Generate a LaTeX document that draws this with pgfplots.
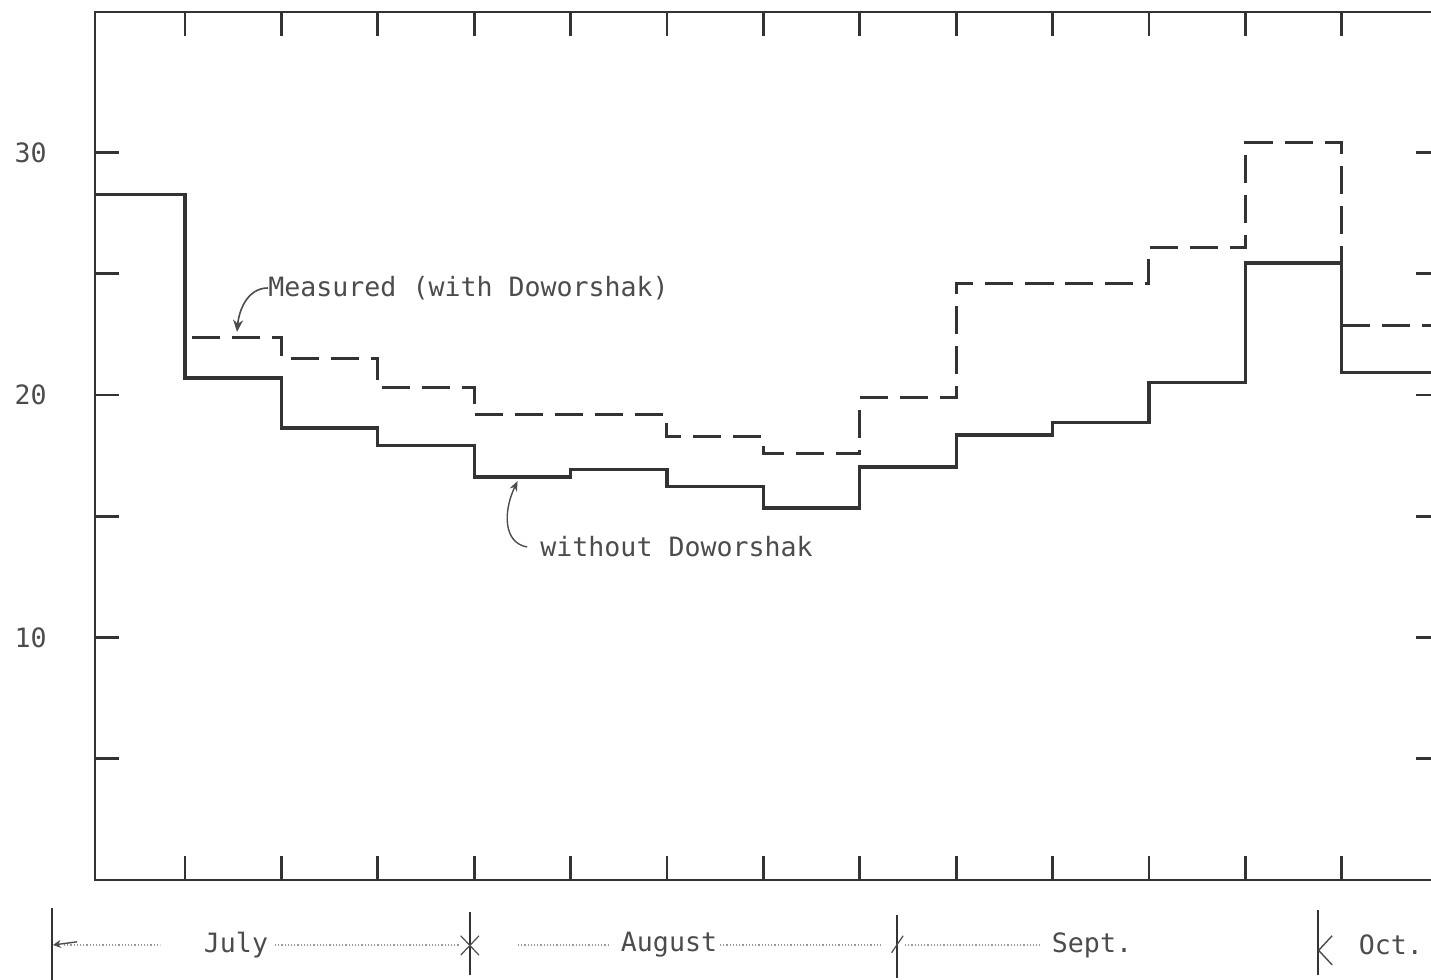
\documentclass[border=0pt]{standalone}
\usepackage{fontspec}
\setmonofont{DejaVu Sans Mono}
\usepackage{pgfplots}
\pgfplotsset{compat=1.18}
\usetikzlibrary{arrows.meta}
\definecolor{ink}{rgb}{0.2,0.2,0.2}
\definecolor{txt}{rgb}{0.3,0.3,0.3}
\definecolor{dotc}{rgb}{0.6,0.6,0.6}
\pgfplotstableread{
x y
0.0664 28.25
1 20.7
2 18.64
3 17.9
4 16.62
5 16.91
6 16.21
7 15.34
8 17.03
9 18.35
10 18.85
11 20.5
12 25.44
13 20.91
14.019 20.91
}\solidtab
\pgfplotstableread{
x y
0.0664 28.25
1 22.35
2 21.5
3 20.29
4 19.18
5 19.18
6 18.27
7 17.57
8 19.88
9 24.6
10 24.6
11 26.06
12 30.39
13 22.85
14.019 22.85
}\dashtab
\begin{document}
\begin{tikzpicture}[font=\ttfamily\fontsize{13.3}{16}\selectfont]
\path[use as bounding box] (0,0) rectangle (715.5pt,490pt);
\clip (0,0) rectangle (715.5pt,490pt);
\begin{axis}[
 at={(47.5pt,50pt)}, anchor=south west, scale only axis,
 width=672.5pt, height=434pt,
 xmin=0.0664, xmax=14.019, ymin=0, ymax=35.79,
 xtick={1,...,13}, xticklabels={},
 ytick={5,10,15,20,25,30}, yticklabels={,10,,20,,30},
 tick align=inside, major tick length=12pt,
 axis line style={ink, line width=1.3pt},
 tick style={ink, line width=1.4pt},
 yticklabel style={txt, inner sep=0pt, xshift=-24pt, font=\ttfamily\fontsize{13.3}{16}\selectfont},
 clip=false,
 /pgf/number format/assume math mode=true,
]
\addplot[const plot, ink, line width=1.6pt] table {\solidtab};
\addplot[const plot, ink, line width=1.5pt, dash pattern=on 14pt off 6pt] table {\dashtab};

\node[anchor=west, inner sep=0pt, txt] at (axis cs:1.861,24.41) {Measured (with Doworshak)};
\draw[txt, line width=0.8pt, -{Stealth[length=6pt,width=5pt]}] (axis cs:1.861,24.41) to[out=180,in=85] (axis cs:1.54,22.6);
\node[anchor=west, inner sep=0pt, txt] at (axis cs:4.683,13.73) {without Doworshak};
\draw[txt, line width=0.7pt, {Stealth[length=5pt,width=4pt]}-] (axis cs:4.45,16.45) .. controls (axis cs:4.3,15.2) and (axis cs:4.3,13.9) .. (axis cs:4.55,13.73);

% month bar
\draw[ink, line width=1pt] (axis cs:-0.380,-1.155) -- (axis cs:-0.380,-4.3);
\draw[ink, line width=1pt] (axis cs:3.956,-1.32) -- (axis cs:3.956,-3.92);
\draw[ink, line width=1pt] (axis cs:8.386,-1.44) -- (axis cs:8.386,-4.03);
\draw[ink, line width=1pt] (axis cs:12.753,-1.24) -- (axis cs:12.753,-3.92);
\draw[dotc, line width=0.6pt, densely dotted] (axis cs:-0.255,-2.68) -- (axis cs:0.741,-2.68);
\draw[dotc, line width=0.6pt, densely dotted] (axis cs:1.934,-2.68) -- (axis cs:3.842,-2.68);
\draw[dotc, line width=0.6pt, densely dotted] (axis cs:4.454,-2.68) -- (axis cs:5.409,-2.68);
\draw[dotc, line width=0.6pt, densely dotted] (axis cs:6.55,-2.68) -- (axis cs:8.21,-2.68);
\draw[dotc, line width=0.6pt, densely dotted] (axis cs:8.469,-2.68) -- (axis cs:9.869,-2.68);
\draw[txt, line width=0.7pt, -{Stealth[length=4pt,width=4pt]}] (axis cs:-0.12,-2.55) -- (axis cs:-0.37,-2.68);
\draw[txt, line width=0.6pt] (axis cs:3.86,-2.3) -- (axis cs:4.05,-3.1);
\draw[txt, line width=0.6pt] (axis cs:3.86,-3.1) -- (axis cs:4.05,-2.3);
\draw[txt, line width=0.6pt] (axis cs:8.33,-3.0) -- (axis cs:8.45,-2.3);
\draw[txt, line width=0.7pt] (axis cs:12.9,-2.3) -- (axis cs:12.76,-2.9) -- (axis cs:12.9,-3.5);
\node[txt] at (axis cs:1.529,-2.68) {July};
\node[txt] at (axis cs:6.021,-2.68) {August};
\node[txt] at (axis cs:10.409,-2.68) {Sept.};
\node[txt] at (axis cs:13.51,-2.68) {Oct.};
\end{axis}
\end{tikzpicture}
\end{document}
